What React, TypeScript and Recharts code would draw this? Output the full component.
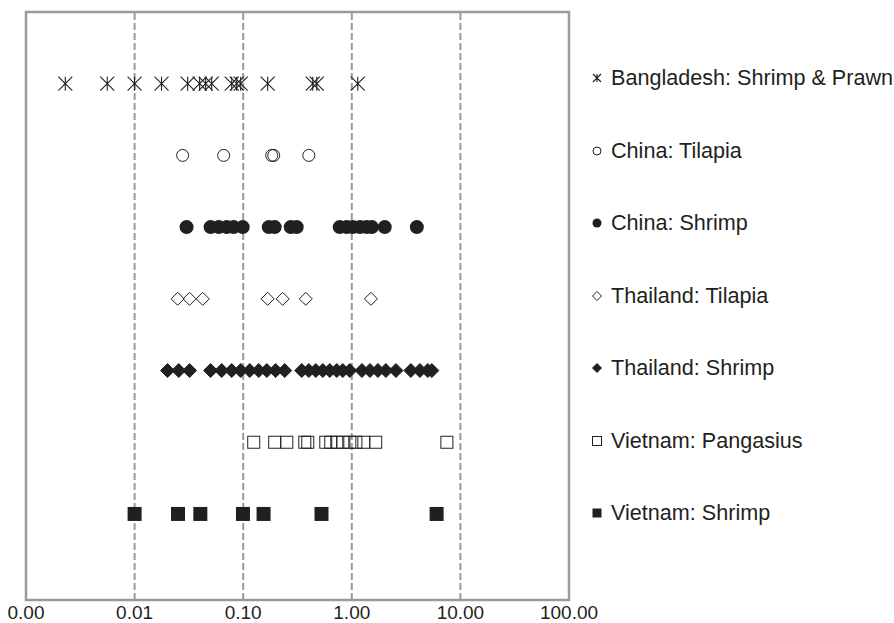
import {
	ReferenceArea,
	ReferenceLine,
	Scatter,
	ScatterChart,
	XAxis,
	YAxis,
} from 'recharts';

const FONT = '"Liberation Sans", Arial, Helvetica, sans-serif';
const INK = '#231f20';
const GRID = '#9a9a9a';

// values, one array per row (top to bottom)
const bangladeshShrimpPrawn = [
	0.0023, 0.0056, 0.01, 0.0177, 0.0308, 0.0397, 0.0451, 0.0513, 0.0784, 0.0871, 0.0948, 0.168,
	0.437, 0.476, 1.135,
];
const chinaTilapia = [0.0277, 0.0661, 0.183, 0.191, 0.402];
const chinaShrimp = [
	0.0301, 0.0501, 0.0595, 0.0705, 0.0817, 0.0989, 0.172, 0.195, 0.274, 0.311, 0.774, 0.899, 1.02,
	1.19, 1.37, 1.53, 2.01, 3.97,
];
const thailandTilapia = [0.0249, 0.0321, 0.0424, 0.168, 0.231, 0.377, 1.5];
const thailandShrimp = [
	0.0201, 0.0255, 0.0321, 0.0501, 0.0634, 0.0784, 0.0948, 0.115, 0.139, 0.165, 0.199, 0.241,
	0.346, 0.402, 0.466, 0.541, 0.627, 0.727, 0.826, 0.959, 1.24, 1.47, 1.74, 2.06, 2.55, 3.5,
	4.24, 5.01, 5.46,
];
const vietnamPangasius = [
	0.125, 0.195, 0.252, 0.369, 0.393, 0.576, 0.64, 0.727, 0.826, 0.959, 1.09, 1.29, 1.66, 7.51,
];
const vietnamShrimp = [0.01, 0.0251, 0.0403, 0.0995, 0.154, 0.526, 6.04];

const xTicks = [0.001, 0.01, 0.1, 1, 10, 100];
const gridLines = [0.01, 0.1, 1, 10];

type MarkerKind = 'star' | 'circle' | 'dot' | 'diamond' | 'diamondFill' | 'square' | 'squareFill';

const series: { name: string; values: number[]; row: number; kind: MarkerKind }[] = [
	{ name: 'Bangladesh: Shrimp & Prawn', values: bangladeshShrimpPrawn, row: 7, kind: 'star' },
	{ name: 'China: Tilapia', values: chinaTilapia, row: 6, kind: 'circle' },
	{ name: 'China: Shrimp', values: chinaShrimp, row: 5, kind: 'dot' },
	{ name: 'Thailand: Tilapia', values: thailandTilapia, row: 4, kind: 'diamond' },
	{ name: 'Thailand: Shrimp', values: thailandShrimp, row: 3, kind: 'diamondFill' },
	{ name: 'Vietnam: Pangasius', values: vietnamPangasius, row: 2, kind: 'square' },
	{ name: 'Vietnam: Shrimp', values: vietnamShrimp, row: 1, kind: 'squareFill' },
];

function Marker({ kind, cx, cy, r }: { kind: MarkerKind; cx: number; cy: number; r: number }) {
	if (kind === 'star') {
		return (
			<path
				d={`M${cx - r},${cy - r}L${cx + r},${cy + r}M${cx - r},${cy + r}L${cx + r},${cy - r}M${cx},${cy - r}L${cx},${cy + r}`}
				stroke={INK}
				strokeWidth={1.1}
				fill="none"
			/>
		);
	}
	if (kind === 'circle' || kind === 'dot') {
		const filled = kind === 'dot';
		return (
			<circle
				cx={cx}
				cy={cy}
				r={filled ? r : r - 0.5}
				fill={filled ? INK : 'none'}
				stroke={INK}
				strokeWidth={filled ? 0 : 1}
			/>
		);
	}
	if (kind === 'diamond' || kind === 'diamondFill') {
		const filled = kind === 'diamondFill';
		return (
			<path
				d={`M${cx},${cy - r}L${cx + r},${cy}L${cx},${cy + r}L${cx - r},${cy}Z`}
				fill={filled ? INK : 'none'}
				stroke={INK}
				strokeWidth={1}
			/>
		);
	}
	const filled = kind === 'squareFill';
	return (
		<rect
			x={cx - r}
			y={cy - r}
			width={r * 2}
			height={r * 2}
			fill={filled ? INK : 'none'}
			stroke={INK}
			strokeWidth={filled ? 0 : 1}
		/>
	);
}

const markerSize: Record<MarkerKind, number> = {
	star: 7,
	circle: 6.5,
	dot: 7,
	diamond: 6.5,
	diamondFill: 7,
	square: 6,
	squareFill: 7,
};

function LegendBox() {
	return (
		<div
			style={{
				position: 'absolute',
				left: 589,
				top: 42,
				fontFamily: FONT,
				color: INK,
			}}
		>
			{series.map((s) => (
				<div
					key={s.name}
					style={{ height: 72.5, display: 'flex', alignItems: 'center', whiteSpace: 'nowrap' }}
				>
					<svg width={22} height={14} style={{ flexShrink: 0 }}>
						<Marker kind={s.kind} cx={8} cy={7} r={s.kind === 'star' ? 4 : 4.5} />
					</svg>
					<span style={{ fontSize: 21.6 }}>{s.name}</span>
				</div>
			))}
		</div>
	);
}

export default function App() {
	return (
		<div
			style={{
				position: 'absolute',
				left: 0,
				top: 0,
				width: 894,
				height: 623,
				background: '#fff',
				overflow: 'hidden',
			}}
		>
			<ScatterChart
				width={894}
				height={623}
				margin={{ top: 12, right: 325, bottom: 0, left: 26 }}
				style={{ overflow: 'visible' }}
			>
				<XAxis
					dataKey="x"
					type="number"
					scale="log"
					domain={[0.001, 100]}
					ticks={xTicks}
					allowDataOverflow
					axisLine={false}
					tickLine={false}
					tickSize={4}
					tickMargin={2}
					height={23}
					interval={0}
					tickFormatter={(v: number) => v.toFixed(2)}
					tick={{ fontSize: 19, fill: INK, fontFamily: FONT }}
				/>
				<YAxis dataKey="y" type="number" domain={[-0.2, 8]} hide />
				{gridLines.map((g) => (
					<ReferenceLine key={g} x={g} stroke={GRID} strokeWidth={2} strokeDasharray="7 3" />
				))}
				<ReferenceArea
					x1={0.001}
					x2={100}
					y1={-0.2}
					y2={8}
					fill="none"
					fillOpacity={0}
					stroke={GRID}
					strokeWidth={2.5}
				/>
				{series.map((s) => (
					<Scatter
						key={s.name}
						name={s.name}
						data={s.values.map((v) => ({ x: v, y: s.row }))}
						isAnimationActive={false}
						shape={(p: any) => (
							<Marker kind={s.kind} cx={p.cx} cy={p.cy} r={markerSize[s.kind]} />
						)}
					/>
				))}
			</ScatterChart>
			<LegendBox />
		</div>
	);
}
